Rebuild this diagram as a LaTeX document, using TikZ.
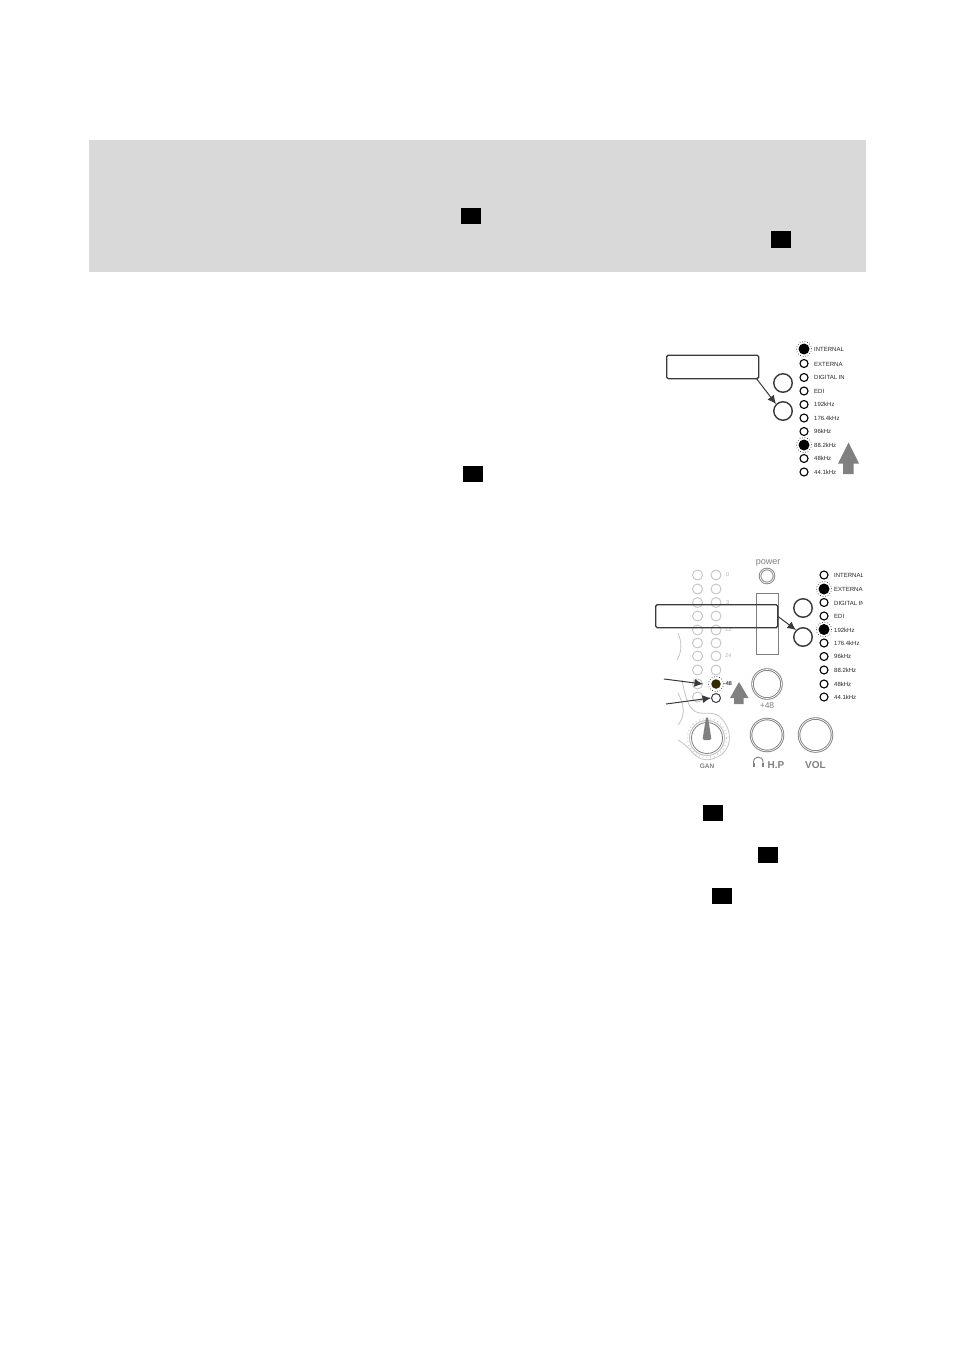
\documentclass[tikz,border=0pt]{standalone}
\usepackage{fontspec}
\setmainfont{Liberation Sans}
\usetikzlibrary{arrows.meta}
\definecolor{band}{HTML}{D9D9D9}
\definecolor{pale}{HTML}{C4C4C4}
\definecolor{softgray}{HTML}{808080}
\definecolor{arrowgray}{HTML}{808080}
\definecolor{inkdark}{HTML}{3A3A3A}
\definecolor{litolive}{HTML}{332A00}
\tikzset{
  x=1pt,y=-1pt,
  blacktag/.style={fill=black,draw=none,minimum width=20pt,minimum height=16pt,inner sep=0pt,outer sep=0pt,shape=rectangle},
  ledoff/.style={circle,draw=black,line width=1.1pt,fill=white,minimum size=8pt,inner sep=0pt},
  ledon/.style={circle,fill=black,draw=none,minimum size=11pt,inner sep=0pt},
  ledring/.style={circle,draw=black,dotted,line width=0.6pt,minimum size=15pt,inner sep=0pt},
  ledtext/.style={anchor=west,font=\fontsize{6}{6}\selectfont,inner sep=0pt,text=black!85},
  button/.style={circle,draw=inkdark,line width=1.4pt,minimum size=18.5pt,inner sep=0pt,fill=white},
  meterled/.style={circle,draw=pale,line width=0.9pt,minimum size=10pt,inner sep=0pt},
  meterlabel/.style={anchor=west,font=\fontsize{5.5}{6}\selectfont,inner sep=0pt,text=pale!90!black},
  calloutbox/.style={draw=inkdark,line width=1.4pt,rounded corners=1.5pt,inner sep=0pt,anchor=north west},
  pointer/.style={draw=inkdark,line width=1pt,-{Latex[length=8.5pt,width=8pt]}},
  bigarrow/.style={fill=arrowgray,draw=none},
  knob/.style={circle,draw=softgray,line width=0.9pt,double=white,double distance=0.7pt,inner sep=0pt},
  paneltext/.style={font=\fontsize{8.5}{9}\selectfont,text=softgray,inner sep=0pt},
  swirl/.style={draw=pale,line width=0.8pt}
}
\begin{document}
\begin{tikzpicture}
\useasboundingbox (0,0) rectangle (954,1351);
\fill[white] (0,0) rectangle (954,1351);
\fill[band] (89,140) rectangle (866,272);
\node[blacktag] (tagA) at (471,216) {};
\node[blacktag,minimum height=17pt] (tagB) at (781,239.5) {};
\node[blacktag] (tagC) at (473,474) {};
\node[blacktag] (tagD) at (713,813) {};
\node[blacktag] (tagE) at (768,855) {};
\node[blacktag] (tagF) at (722,896) {};

% upper panel
\node[ledring] (ua) at (804,349) {};
\node[ledon] at (ua) {};
\node[ledoff] (ub) at (804,363.5) {};
\node[ledoff] (uc) at (804,377.5) {};
\node[ledoff] (ud) at (804,391) {};
\node[ledoff] (ue) at (804,404.5) {};
\node[ledoff] (uf) at (804,418) {};
\node[ledoff] (ug) at (804,431.5) {};
\node[ledring] (uh) at (804,445) {};
\node[ledon] at (uh) {};
\node[ledoff] (ui) at (804,458.5) {};
\node[ledoff] (uj) at (804,472) {};
\begin{scope}
\clip (810,340) rectangle (843.5,480);
\node[ledtext] (utA) at (814,349.5) {INTERNAL};
\node[ledtext] (utB) at (814,364) {EXTERNA};
\node[ledtext] (utC) at (814,377.5) {DIGITAL IN};
\node[ledtext] (utD) at (814,391) {EDI};
\node[ledtext] (utE) at (814,404.5) {192kHz};
\node[ledtext] (utF) at (814,418) {176.4kHz};
\node[ledtext] (utG) at (814,431.5) {96kHz};
\node[ledtext] (utH) at (814,445) {88.2kHz};
\node[ledtext] (utI) at (814,458.5) {48kHz};
\node[ledtext] (utJ) at (814,472) {44.1kHz};
\end{scope}
\node[button] (ubtnA) at (783,383) {};
\node[button] (ubtnB) at (783,411) {};
\node[calloutbox,minimum width=92pt,minimum height=23.5pt] (ubox) at (666,354.5) {};
\coordinate (ufrom) at (756,378);
\draw[pointer] (ufrom) -- (ubtnB.north west);
\fill[bigarrow] (848.5,442.5) -- (859,463.5) -- (853.5,463.5) -- (853.5,474) -- (843,474) -- (843,463.5) -- (838,463.5) -- cycle;

% lower panel: meter
\foreach \n/\yy in {a/575,b/589,c/602.5,d/616,e/630,f/643,g/656,h/670,i/684,j/697}{
  \node[meterled] (mL\n) at (697.5,\yy) {};
}
\foreach \n/\yy in {a/575,b/589,c/602.5,d/616,e/630,f/643,g/656,h/670}{
  \node[meterled] (mR\n) at (716,\yy) {};
}
\node[meterlabel] (lab0) at (726,575) {0};
\node[meterlabel] (lab3) at (726,602.5) {3};
\node[meterlabel] (lab12) at (725,630) {12};
\node[meterlabel] (lab24) at (725,656) {24};
% swirls
\draw[swirl] (678,633) .. controls (682,642) and (682,652) .. (677,660);
\draw[swirl] (678,693) .. controls (684,705) and (686,715) .. (678,725);
\draw[swirl] (682,680) .. controls (685,695) and (688,712) .. (700,713)
  .. controls (708,714) and (716,711) .. (722,719)
  .. controls (732,730) and (732,746) .. (722,754)
  .. controls (712,762) and (700,762) .. (692,752)
  .. controls (688,747) and (683,743) .. (678,740);
\draw[pale,line width=1pt] (707,738) circle[radius=17.5];
\draw[softgray,line width=0.8pt] (707,738) circle[radius=15.5];
\draw[pale,line width=1.2pt,dash pattern=on 0.8pt off 3pt] (707,738) circle[radius=19.5];
\fill[softgray,rounded corners=1.5pt] (706,717) -- (708,717) -- (711.5,740) -- (702.5,740) -- cycle;
\node[font=\fontsize{6.5}{7}\selectfont\bfseries,text=softgray,inner sep=0pt] (gan) at (707,766) {GAN};

% lower panel: LED +48
\node[ledring] (pring) at (716,684) {};
\node[circle,fill=litolive,minimum size=9.5pt,inner sep=0pt] (plit) at (716,684) {};
\node[circle,draw=inkdark,line width=1pt,minimum size=9pt,inner sep=0pt,fill=white] (popen) at (716,698) {};
\node[font=\fontsize{5.5}{6}\selectfont\bfseries,inner sep=0pt,text=inkdark] (p48) at (728,684) {-48};
\fill[bigarrow] (739,682) -- (748.5,698) -- (743.5,698) -- (743.5,704) -- (734,704) -- (734,698) -- (730,698) -- cycle;
\coordinate (pfromA) at (664,679);
\coordinate (pfromB) at (666,704);
\draw[pointer] (pfromA) -- (mLi.east);
\draw[pointer] (pfromB) -- (popen.west);

% lower panel: knobs
\node[paneltext,font=\fontsize{9}{9}\selectfont] (powerlabel) at (768,563) {power};
\node[knob,minimum size=14pt] (powerbtn) at (767,576) {};
\node[knob,minimum size=29pt] (k48) at (767,684) {};
\node[paneltext] (k48lab) at (767,706) {+48};
\node[knob,minimum size=32pt] (khp) at (767,735) {};
\node[knob,minimum size=33pt] (kvol) at (815.5,735) {};
\node[paneltext,font=\fontsize{10}{10}\selectfont\bfseries] (hplab) at (776,765) {H.P};
\node[paneltext,font=\fontsize{10}{10}\selectfont\bfseries] (vollab) at (815.5,765) {VOL};
% headphones
\draw[softgray,line width=0.9pt] (753.5,765) -- (753.5,762) .. controls (753.5,755.5) and (763,755.5) .. (763,762) -- (763,765);
\fill[softgray] (752.5,762.5) rectangle (755,767);
\fill[softgray] (761.5,762.5) rectangle (764,767);

% lower panel: source LEDs
\node[ledoff] (la) at (824,575) {};
\node[ledring] (lb) at (824,589) {};
\node[ledon] at (lb) {};
\node[ledoff] (lc) at (824,602.5) {};
\node[ledoff] (ld) at (824,616) {};
\node[ledring] (le) at (824,629.5) {};
\node[ledon] at (le) {};
\node[ledoff] (lf) at (824,643) {};
\node[ledoff] (lg) at (824,656.5) {};
\node[ledoff] (lh) at (824,670) {};
\node[ledoff] (li) at (824,684) {};
\node[ledoff] (lj) at (824,697) {};
\begin{scope}
\clip (830,565) rectangle (862.5,705);
\node[ledtext] (ltA) at (834,575.5) {INTERNAL};
\node[ledtext] (ltB) at (834,589.5) {EXTERNA};
\node[ledtext] (ltC) at (834,603) {DIGITAL IN};
\node[ledtext] (ltD) at (834,616.5) {EDI};
\node[ledtext] (ltE) at (834,630) {192kHz};
\node[ledtext] (ltF) at (834,643.5) {176.4kHz};
\node[ledtext] (ltG) at (834,656.5) {96kHz};
\node[ledtext] (ltH) at (834,670.5) {88.2kHz};
\node[ledtext] (ltI) at (834,684.5) {48kHz};
\node[ledtext] (ltJ) at (834,697.5) {44.1kHz};
\end{scope}
\draw[softgray,line width=0.7pt] (756.5,593) rectangle (778,654);
\node[button] (lbtnA) at (803,608) {};
\node[button] (lbtnB) at (803,637) {};
\node[calloutbox,minimum width=122pt,minimum height=23pt] (lbox) at (655,604) {};
\coordinate (lfrom) at (778,616.5);
\draw[pointer] (lfrom) -- (lbtnB.north west);
\end{tikzpicture}
\end{document}
